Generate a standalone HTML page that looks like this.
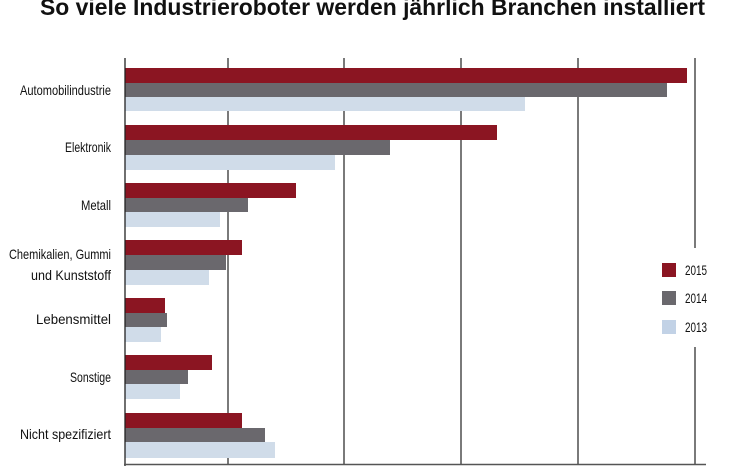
<!DOCTYPE html>
<html><head><meta charset="utf-8"><style>
html,body{margin:0;padding:0;background:#fff;overflow:hidden}
svg{display:block}
text{font-family:"Liberation Sans",sans-serif;fill:#111}
</style></head><body>
<svg width="733" height="469" viewBox="0 0 733 469" xmlns="http://www.w3.org/2000/svg">
<text x="40" y="15" font-size="23" font-weight="bold" textLength="665" lengthAdjust="spacingAndGlyphs">So viele Industrieroboter werden jährlich Branchen installiert</text>
<g stroke="#222" stroke-width="1.2">
<line x1="228" y1="58" x2="228" y2="464"/>
<line x1="344" y1="58" x2="344" y2="464"/>
<line x1="461" y1="58" x2="461" y2="464"/>
<line x1="578" y1="58" x2="578" y2="464"/>
<line x1="695" y1="58" x2="695" y2="248"/>
<line x1="695" y1="347" x2="695" y2="464"/>
</g>
<g>
<rect x="125" y="68" width="562" height="15" fill="#8b1522"/>
<rect x="125" y="83" width="542" height="14" fill="#6a686d"/>
<rect x="125" y="97" width="400" height="14" fill="#d0dce9"/>
<rect x="125" y="125" width="372" height="15" fill="#8b1522"/>
<rect x="125" y="140" width="265" height="15" fill="#6a686d"/>
<rect x="125" y="155" width="210" height="15" fill="#d0dce9"/>
<rect x="125" y="183" width="171" height="15" fill="#8b1522"/>
<rect x="125" y="198" width="123" height="14" fill="#6a686d"/>
<rect x="125" y="212" width="95" height="15" fill="#d0dce9"/>
<rect x="125" y="240" width="117" height="15" fill="#8b1522"/>
<rect x="125" y="255" width="101" height="15" fill="#6a686d"/>
<rect x="125" y="270" width="84" height="15" fill="#d0dce9"/>
<rect x="125" y="298" width="40" height="15" fill="#8b1522"/>
<rect x="125" y="313" width="42" height="14" fill="#6a686d"/>
<rect x="125" y="327" width="36" height="15" fill="#d0dce9"/>
<rect x="125" y="355" width="87" height="15" fill="#8b1522"/>
<rect x="125" y="370" width="63" height="14" fill="#6a686d"/>
<rect x="125" y="384" width="55" height="15" fill="#d0dce9"/>
<rect x="125" y="413" width="117" height="15" fill="#8b1522"/>
<rect x="125" y="428" width="140" height="14" fill="#6a686d"/>
<rect x="125" y="442" width="150" height="16" fill="#d0dce9"/>
</g>
<g stroke="#222" stroke-width="1.3">
<line x1="125" y1="58" x2="125" y2="466"/>
<line x1="124" y1="464.5" x2="706" y2="464.5" stroke="#555" stroke-width="1.5"/>
</g>
<g font-size="14">
<text x="20" y="95" textLength="91" lengthAdjust="spacingAndGlyphs">Automobilindustrie</text>
<text x="65" y="152" textLength="46" lengthAdjust="spacingAndGlyphs">Elektronik</text>
<text x="81" y="210" textLength="30" lengthAdjust="spacingAndGlyphs">Metall</text>
<text x="9" y="259" textLength="102" lengthAdjust="spacingAndGlyphs">Chemikalien, Gummi</text>
<text x="31" y="280" textLength="80" lengthAdjust="spacingAndGlyphs">und Kunststoff</text>
<text x="36" y="324" textLength="75" lengthAdjust="spacingAndGlyphs">Lebensmittel</text>
<text x="70" y="382" textLength="41" lengthAdjust="spacingAndGlyphs">Sonstige</text>
<text x="20" y="439" textLength="91" lengthAdjust="spacingAndGlyphs">Nicht spezifiziert</text>
</g>
<rect x="662" y="263" width="14" height="14" fill="#8b1522"/>
<rect x="662" y="291" width="14" height="14" fill="#6a686d"/>
<rect x="662" y="320" width="14" height="14" fill="#c2d2e6"/>
<g font-size="14">
<text x="685" y="275" textLength="22" lengthAdjust="spacingAndGlyphs">2015</text>
<text x="685" y="303" textLength="22" lengthAdjust="spacingAndGlyphs">2014</text>
<text x="685" y="332" textLength="22" lengthAdjust="spacingAndGlyphs">2013</text>
</g>
</svg>
</body></html>
